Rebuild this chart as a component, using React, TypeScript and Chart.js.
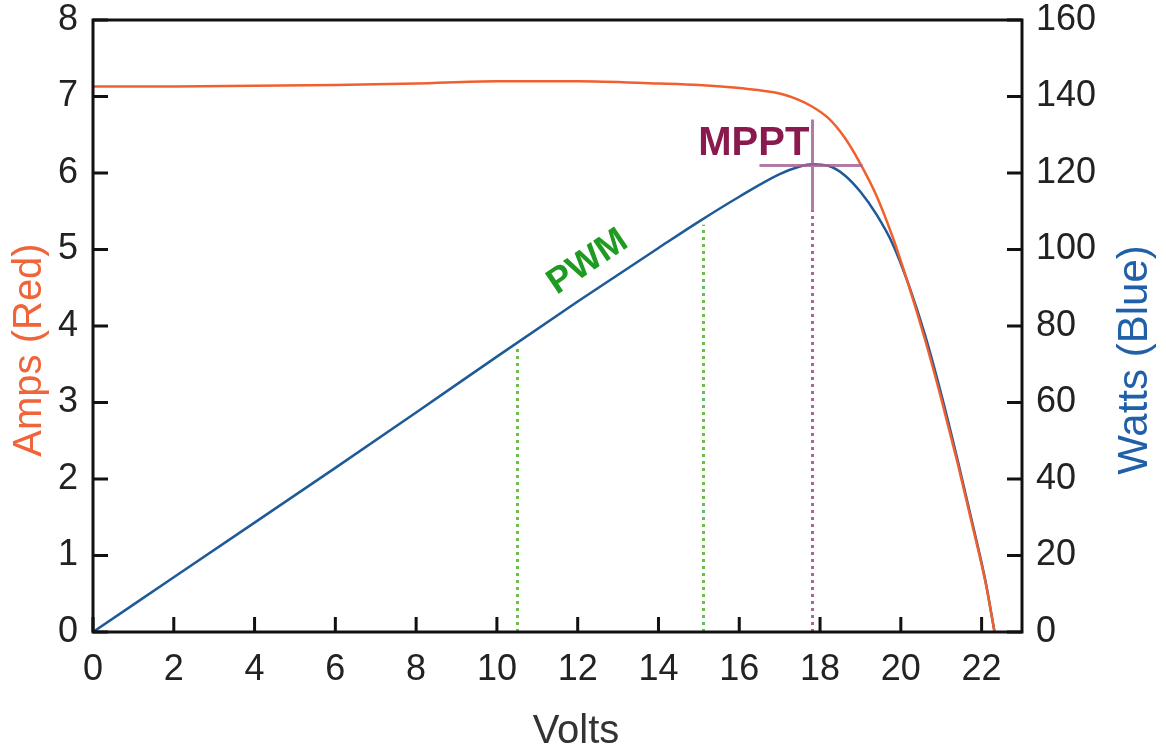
import { useEffect, useRef } from "react";
import { Chart, registerables } from "chart.js";

Chart.register(...registerables);

// ---- data ----
const volts = [0, 2, 4, 6, 8, 10, 12, 14, 15, 16, 17, 17.5, 17.8, 18.2, 18.6, 19, 19.4, 19.8, 20.2, 20.6, 21, 21.4, 21.8, 22.1, 22.32];
const amps = [7.13, 7.13, 7.14, 7.15, 7.17, 7.2, 7.2, 7.17, 7.15, 7.11, 7.04, 6.95, 6.87, 6.72, 6.47, 6.12, 5.7, 5.16, 4.52, 3.82, 3.05, 2.22, 1.33, 0.64, 0];
const watts = [0, 14.3, 28.6, 42.9, 57.4, 72, 86.4, 100.4, 107.3, 113.8, 119.7, 121.7, 122.3, 121.9, 119.5, 115.1, 109.1, 101.4, 90.6, 77.6, 62.2, 45.2, 27.2, 13.1, 0];

const xTicks = [0, 2, 4, 6, 8, 10, 12, 14, 16, 18, 20, 22];
const ampTicks = [0, 1, 2, 3, 4, 5, 6, 7, 8];
const wattTicks = [0, 20, 40, 60, 80, 100, 120, 140, 160];

// annotation values (volts, watts)
const pwmVolts = [10.5, 15.1];
const pwmWatts = [75, 106.5];
const mpptVolt = 17.8;
const mpptWatt = 122;
const mpptVRange = [16.5, 19.05];
const mpptWRange = [110.5, 134];

const RED = "#f0602e";
const BLUE = "#1f5a98";
const FONT = "'Liberation Sans', Arial, sans-serif";

const annotPlugin = {
  id: "annot",
  beforeDatasetsDraw(chart: any) {
    const { ctx, chartArea: a, scales } = chart;
    const x = scales.x;
    const yw = scales.y1;
    ctx.save();
    ctx.beginPath();
    ctx.rect(a.left, a.top, a.right - a.left, a.bottom - a.top);
    ctx.clip();
    ctx.lineWidth = 3;
    ctx.setLineDash([3, 4]);
    ctx.strokeStyle = "#6cbf4a";
    pwmVolts.forEach((v, i) => {
      const px = Math.round(x.getPixelForValue(v)) + 0.5;
      ctx.beginPath();
      ctx.moveTo(px, yw.getPixelForValue(0));
      ctx.lineTo(px, yw.getPixelForValue(pwmWatts[i]));
      ctx.stroke();
    });
    ctx.strokeStyle = "#b0609a";
    const mx = Math.round(x.getPixelForValue(mpptVolt)) + 0.5;
    ctx.beginPath();
    ctx.moveTo(mx, yw.getPixelForValue(0));
    ctx.lineTo(mx, yw.getPixelForValue(mpptWRange[0]));
    ctx.stroke();
    ctx.restore();
  },
  afterDatasetsDraw(chart: any) {
    const { ctx, chartArea: a, scales } = chart;
    const x = scales.x;
    const ya = scales.y;
    const yw = scales.y1;
    ctx.save();
    // MPPT crosshair
    ctx.strokeStyle = "rgba(165, 100, 150, 0.85)";
    ctx.lineWidth = 3;
    const mx = Math.round(x.getPixelForValue(mpptVolt)) + 0.5;
    ctx.beginPath();
    ctx.moveTo(mx, yw.getPixelForValue(mpptWRange[0]));
    ctx.lineTo(mx, yw.getPixelForValue(mpptWRange[1]));
    const my = Math.round(yw.getPixelForValue(mpptWatt)) + 0.5;
    ctx.moveTo(x.getPixelForValue(mpptVRange[0]), my);
    ctx.lineTo(x.getPixelForValue(mpptVRange[1]), my);
    ctx.stroke();

    // MPPT text
    ctx.fillStyle = "#8a1a4e";
    ctx.font = `bold 40px ${FONT}`;
    ctx.textAlign = "center";
    ctx.textBaseline = "alphabetic";
    ctx.fillText("MPPT", x.getPixelForValue(16.36), yw.getPixelForValue(124.7));

    // PWM text
    ctx.save();
    ctx.translate(x.getPixelForValue(12.25), yw.getPixelForValue(96.7));
    ctx.rotate(-34 * Math.PI / 180);
    ctx.fillStyle = "#1f9a22";
    ctx.font = `bold 36px ${FONT}`;
    ctx.textAlign = "center";
    ctx.textBaseline = "middle";
    ctx.fillText("PWM", 0, 0);
    ctx.restore();

    // frame
    ctx.strokeStyle = "#111";
    ctx.lineWidth = 3;
    ctx.strokeRect(a.left, a.top, a.right - a.left, a.bottom - a.top);

    // inward ticks
    const TL = 15;
    ctx.beginPath();
    xTicks.forEach((t) => {
      const px = x.getPixelForValue(t);
      ctx.moveTo(px, a.bottom);
      ctx.lineTo(px, a.bottom - TL);
    });
    ampTicks.forEach((t) => {
      const py = ya.getPixelForValue(t);
      ctx.moveTo(a.left, py);
      ctx.lineTo(a.left + TL, py);
    });
    wattTicks.forEach((t) => {
      const py = yw.getPixelForValue(t);
      ctx.moveTo(a.right, py);
      ctx.lineTo(a.right - TL, py);
    });
    ctx.stroke();

    // axis titles
    ctx.font = `40px ${FONT}`;
    ctx.textAlign = "center";
    ctx.textBaseline = "middle";
    ctx.fillStyle = "#333";
    ctx.fillText("Volts", 576, 732);

    ctx.save();
    ctx.translate(30, 350);
    ctx.rotate(-Math.PI / 2);
    ctx.fillStyle = "#f0643a";
    ctx.fillText("Amps (Red)", 0, 0);
    ctx.restore();

    ctx.save();
    ctx.translate(1135, 360);
    ctx.rotate(-Math.PI / 2);
    ctx.font = `42px ${FONT}`;
    ctx.fillStyle = "#2060a8";
    ctx.fillText("Watts (Blue)", 0, 0);
    ctx.restore();

    ctx.restore();
  },
};

export default function App() {
  const ref = useRef<HTMLCanvasElement | null>(null);

  useEffect(() => {
    if (!ref.current) return;
    const tickFont = { family: FONT, size: 36 };
    const chart = new Chart(ref.current, {
      type: "line",
      data: {
        datasets: [
          {
            label: "Amps",
            data: volts.map((v, i) => ({ x: v, y: amps[i] })),
            borderColor: RED,
            borderWidth: 2.5,
            pointRadius: 0,
            cubicInterpolationMode: "monotone",
            yAxisID: "y",
            fill: false,
          },
          {
            label: "Watts",
            data: volts.map((v, i) => ({ x: v, y: watts[i] })),
            borderColor: BLUE,
            borderWidth: 2.5,
            pointRadius: 0,
            cubicInterpolationMode: "monotone",
            yAxisID: "y1",
            fill: false,
          },
        ],
      },
      options: {
        animation: false,
        responsive: true,
        maintainAspectRatio: false,
        layout: { padding: { top: 20, left: 0, right: 0, bottom: 0 } },
        plugins: { legend: { display: false }, tooltip: { enabled: false } },
        scales: {
          x: {
            type: "linear",
            min: 0,
            max: 23,
            grid: { display: false, drawTicks: false },
            border: { display: false },
            afterBuildTicks: (s: any) => {
              s.ticks = xTicks.map((v) => ({ value: v }));
            },
            afterFit: (s: any) => {
              s.height = 123;
              s.paddingLeft = 0;
              s.paddingRight = 0;
            },
            ticks: { font: tickFont, color: "#222", padding: 16, maxRotation: 0, autoSkip: false },
          },
          y: {
            type: "linear",
            position: "left",
            min: 0,
            max: 8,
            grid: { display: false, drawTicks: false },
            border: { display: false },
            afterBuildTicks: (s: any) => {
              s.ticks = ampTicks.map((v) => ({ value: v }));
            },
            afterFit: (s: any) => {
              s.width = 93;
              s.paddingTop = 0;
              s.paddingBottom = 0;
            },
            ticks: { font: tickFont, color: "#222", padding: 15 },
          },
          y1: {
            type: "linear",
            position: "right",
            min: 0,
            max: 160,
            grid: { display: false, drawTicks: false },
            border: { display: false },
            afterBuildTicks: (s: any) => {
              s.ticks = wattTicks.map((v) => ({ value: v }));
            },
            afterFit: (s: any) => {
              s.width = 144;
              s.paddingTop = 0;
              s.paddingBottom = 0;
            },
            ticks: { font: tickFont, color: "#222", padding: 14 },
          },
        },
      },
      plugins: [annotPlugin],
    } as any);
    return () => chart.destroy();
  }, []);

  return (
    <div style={{ position: "absolute", left: 0, top: 0, width: 1166, height: 755, background: "#fff" }}>
      <canvas ref={ref} />
    </div>
  );
}
